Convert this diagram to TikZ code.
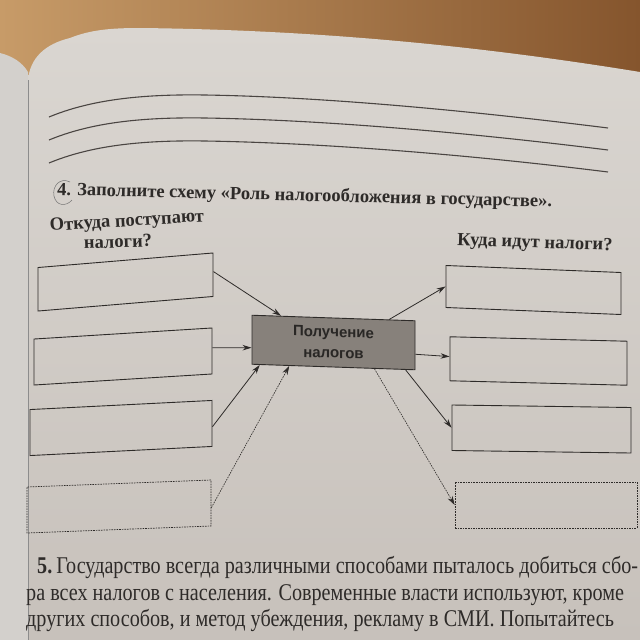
\documentclass[tikz,border=0pt]{standalone}
\usepackage{fontspec}
\setmainfont{Liberation Serif}
\setsansfont{Liberation Sans}
\newfontfamily\bodyfam{Liberation Serif}[FakeStretch=0.84]
\usetikzlibrary{arrows.meta,calc}
\definecolor{page}{HTML}{DAD6D1}
\definecolor{pagedark}{HTML}{C7C1BB}
\definecolor{woodA}{HTML}{C79B68}
\definecolor{woodB}{HTML}{85552D}
\definecolor{under}{HTML}{D3D0CC}
\definecolor{ink}{HTML}{2E2B29}
\definecolor{lineink}{HTML}{4A4542}
\definecolor{cbox}{HTML}{87817B}
\begin{document}
\begin{tikzpicture}[x=1pt,y=-1pt,
  box/.style={draw=ink, line width=0.9pt, inner sep=0pt, transform shape},
  dbox/.style={box, line width=0.7pt, dash pattern=on 1.6pt off 1pt},
  arr/.style={draw=ink, line width=0.8pt, -{Stealth[length=9pt,width=5.5pt]}},
  darr/.style={arr, line width=0.6pt, dash pattern=on 1.6pt off 1pt},
  head/.style={font=\bfseries\fontsize{18.5}{20}\selectfont, text=ink, inner sep=0pt, anchor=base west},
  body/.style={font=\bodyfam\fontsize{24}{26}\selectfont, text=ink, inner sep=0pt, anchor=base west},
  wline/.style={draw=lineink, line width=1.1pt},
]
\useasboundingbox (0,0) rectangle (640,640);
\clip (0,0) rectangle (640,640);
% wood table
\shade[left color=woodA, right color=woodB] (0,0) rectangle (640,110);
% page underneath
\fill[under] (0,53) .. controls (12,56) and (22,62) .. (28,72) -- (28,640) -- (0,640) -- cycle;
% page
\shade[top color=page, bottom color=pagedark]
  (28,640) -- (28,80) .. controls (30,58) and (45,44) .. (70,38)
  .. controls (90,30) and (110,28) .. (140,28)
  .. controls (320,30) and (480,46) .. (640,72) -- (640,640) -- cycle;
\draw[draw=black!45, line width=0.6pt] (28,80) -- (28,640);
% writing lines
\draw[wline] (49,117) .. controls (90,100) and (140,94) .. (205,95) .. controls (330,97) and (480,112) .. (608,128);
\draw[wline] (49,140) .. controls (90,123) and (140,117) .. (205,118) .. controls (330,120) and (480,134) .. (608,150);
\draw[wline] (49,163) .. controls (90,146) and (140,140) .. (205,141) .. controls (330,143) and (480,156) .. (608,172);
% headings
\node[head, rotate=-1.4] (title) at (57,195) {4. Заполните схему «Роль налогообложения в государстве».};
\draw[black!55, line width=0.5pt] (70,182) .. controls (60,177) and (52,186) .. (54,196) .. controls (56,206) and (66,207) .. (72,200);
\node[head, rotate=3.5] (from) at (50,231) {Откуда поступают};
\node[head, rotate=2] (from2) at (84,249) {налоги?};
\node[head, rotate=-2] (to) at (457,245) {Куда идут налоги?};
% left boxes
\begin{scope}[shift={(125.5,282)}, yslant=0.083]
  \node[box, minimum width=175pt, minimum height=43.5pt] (l1) {};
\end{scope}
\begin{scope}[shift={(123,356.5)}, yslant=0.062]
  \node[box, minimum width=178pt, minimum height=46pt] (l2) {};
\end{scope}
\begin{scope}[shift={(121,428)}, yslant=0.05]
  \node[box, minimum width=182pt, minimum height=46pt] (l3) {};
\end{scope}
\begin{scope}[shift={(119,506.5)}, yslant=0.038]
  \node[dbox, minimum width=184pt, minimum height=46pt] (l4) {};
\end{scope}
% centre box
\begin{scope}[shift={(333.5,342.5)}, yslant=-0.034]
  \node[box, fill=cbox, minimum width=163pt, minimum height=49pt, align=center,
        font=\sffamily\bfseries\fontsize{15}{21}\selectfont, text=ink!90!black] (c) {Получение\\налогов};
\end{scope}
% right boxes
\begin{scope}[shift={(533.5,290)}, yslant=-0.04]
  \node[box, minimum width=175pt, minimum height=42pt] (r1) {};
\end{scope}
\begin{scope}[shift={(538.5,361)}, yslant=-0.025]
  \node[box, minimum width=177pt, minimum height=44pt] (r2) {};
\end{scope}
\begin{scope}[shift={(541.5,429)}, yslant=-0.014]
  \node[box, minimum width=179pt, minimum height=45.5pt] (r3) {};
\end{scope}
\begin{scope}[shift={(546,505)}]
  \node[dbox, minimum width=182pt, minimum height=46pt] (r4) {};
\end{scope}
% arrows in
\draw[arr] ($(l1.north east)!0.43!(l1.south east)$) -- ($(c.north west)!0.18!(c.north east)$);
\draw[arr] ($(l2.north east)!0.43!(l2.south east)$) -- ($(c.north west)!0.66!(c.south west)$);
\draw[arr] ($(l3.north east)!0.57!(l3.south east)$) -- ($(c.south west)!0.05!(c.south east)$);
\draw[darr] ($(l4.north east)!0.6!(l4.south east)$) -- ($(c.south west)!0.23!(c.south east)$);
% arrows out
\draw[arr] ($(c.north west)!0.84!(c.north east)$) -- (r1.west);
\draw[arr] ($(c.north east)!0.68!(c.south east)$) -- ($(r2.north west)!0.45!(r2.south west)$);
\draw[arr] ($(c.south west)!0.94!(c.south east)$) -- (r3.west);
\draw[darr] ($(c.south west)!0.75!(c.south east)$) -- (r4.west);
% task 5 text
\node[body] (t1) at (37,573) {\textbf{5.}\,Государство всегда различными способами пыталось добиться сбо-};
\node[body] (t2) at (26,600) {ра всех налогов с населения. Современные власти используют, кроме};
\node[body] (t3) at (26,626) {других способов, и метод убеждения, рекламу в СМИ. Попытайтесь};
\end{tikzpicture}
\end{document}
